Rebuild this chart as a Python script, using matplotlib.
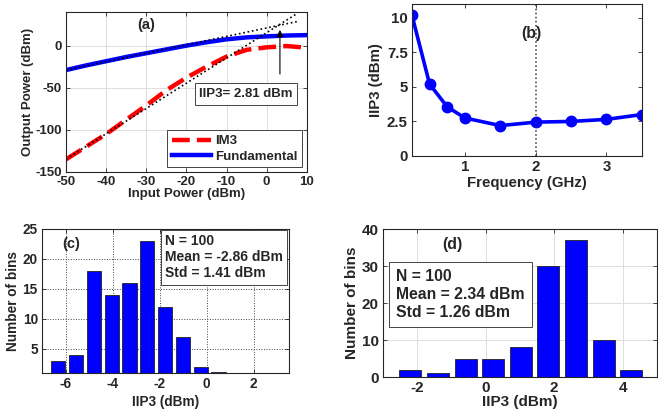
import matplotlib
matplotlib.use("Agg")
import matplotlib.pyplot as plt
import numpy as np

plt.rcParams["font.family"] = ["Liberation Sans", "DejaVu Sans"]
plt.rcParams["font.weight"] = "bold"
plt.rcParams["font.size"] = 9.5
plt.rcParams["axes.labelweight"] = "bold"
plt.rcParams["axes.unicode_minus"] = False
plt.rcParams["text.color"] = "#262626"
plt.rcParams["axes.labelcolor"] = "#262626"
plt.rcParams["xtick.color"] = "#262626"
plt.rcParams["ytick.color"] = "#262626"
plt.rcParams["xtick.direction"] = "in"
plt.rcParams["ytick.direction"] = "in"

# (a) two-tone sweep
pin = [-50, -45, -40, -35, -30, -25, -20, -15, -10, -5, 0, 5, 10]
fund = [-29, -23.5, -18.5, -13.5, -9, -4.5, 0, 4, 7.5, 9.8, 11, 12, 12.5]
im3 = [-135, -120, -105, -88, -71, -53, -38, -25, -13, -5, -2, -0.5, -2.5]
iip3_a = 2.81
fund_gain = 21.0   # extrapolated fundamental: y = x + gain
im3_off = 15.4     # extrapolated IM3: y = 3x + off
pin_ext = [-50, 7.5]

# (b) IIP3 vs frequency
freq = [0.25, 0.5, 0.75, 1.0, 1.5, 2.0, 2.5, 3.0, 3.5]
iip3_f = [10.2, 5.2, 3.55, 2.75, 2.2, 2.45, 2.5, 2.65, 3.0]

# (c) Monte Carlo histogram
c_centers = [-6.31 + 0.757 * k for k in range(13)]
c_counts = [3, 4, 18, 14, 16, 23, 12, 7, 2, 1.15, 0, 0, 0]
c_stats = "N = 100\nMean = -2.86 dBm\nStd = 1.41 dBm"

# (d) Monte Carlo histogram
d_centers = [-2.2 + 0.806 * k for k in range(9)]
d_counts = [2, 1, 5, 5, 8, 30, 37, 10, 2]
d_stats = "N = 100\nMean = 2.34 dBm\nStd = 1.26 dBm"

fig = plt.figure(figsize=(6.58, 4.19), dpi=100)


def style(ax, fs):
    ax.tick_params(top=True, right=True, length=3, width=0.6, pad=3, labelsize=fs)
    for s in ax.spines.values():
        s.set_linewidth(0.8)
        s.set_color("#262626")


# ---- (a)
fs = 9.5
ax = fig.add_axes([0.1003, 0.5895, 0.366, 0.382])
style(ax, fs)
ax.grid(True, color="#dddddd", lw=0.7)
ax.set_axisbelow(True)
ax.plot(pin, im3, color="red", ls=(0, (4, 1.6)), lw=3.2, label="IM3")
ax.plot(pin, fund, color="blue", lw=3.2, label="Fundamental")
px = np.array(pin_ext)
ax.plot(px, px + fund_gain, color="black", ls=":", lw=1.2)
ax.plot(px, 3 * px + im3_off, color="black", ls=":", lw=1.2)
ax.annotate("", xy=(3.3, 22), xytext=(3.3, -37),
            arrowprops=dict(arrowstyle="-|>", color="black", lw=0.8, mutation_scale=10))
ax.text(-16.8, -57.5, "IIP3= %.2f dBm" % iip3_a, fontsize=9.5, va="center",
        bbox=dict(boxstyle="square,pad=0.35", fc="white", ec="#262626", lw=0.6))
ax.text(-30, 24.5, "(a)", fontsize=10.5, ha="center", va="center")
ax.set_xlim(-50, 10)
ax.set_ylim(-150, 40)
ax.set_xticks(range(-50, 11, 10))
ax.set_yticks([-150, -100, -50, 0])
ax.set_xlabel("Input Power (dBm)", fontsize=fs, labelpad=0)
ax.set_ylabel("Output Power (dBm)", fontsize=fs, labelpad=1)
leg = ax.legend(loc="lower right", fontsize=9.5, handlelength=3.0,
                fancybox=False, framealpha=1, edgecolor="#262626",
                borderaxespad=0.35, labelspacing=0.25, borderpad=0.35,
                handletextpad=0.3)
leg.get_frame().set_linewidth(0.6)

# ---- (b)
fs = 10.8
ax = fig.add_axes([0.626, 0.6277, 0.3495, 0.3628])
style(ax, fs)
ax.plot(freq, iip3_f, color="blue", lw=2.6, marker="o", ms=7.5)
ax.axvline(2, color="#333333", ls=":", lw=1.1)
ax.text(1.94, 8.9, "(b)", fontsize=11.5, ha="center", va="center")
ax.set_xlim(0.25, 3.5)
ax.set_ylim(0, 11)
ax.set_xticks([1, 2, 3])
ax.set_yticks([0, 2.5, 5, 7.5, 10])
ax.set_yticklabels(["0", "2.5", "5", "7.5", "10"])
ax.set_xlabel("Frequency (GHz)", fontsize=fs, labelpad=1)
ax.set_ylabel("IIP3 (dBm)", fontsize=fs, labelpad=3)

# ---- (c)
fs = 9.8
ax = fig.add_axes([0.0638, 0.1098, 0.3754, 0.3437])
style(ax, fs)
ax.grid(True, color="#444444", ls=":", lw=0.7)
ax.set_axisbelow(True)
ax.bar(c_centers, c_counts, width=0.757 * 0.8, color="blue",
       edgecolor="#222222", lw=0.6)
ax.text(-5.74, 22.5, "(c)", fontsize=10.5, ha="center", va="center")
ax.text(0.497, 0.965, c_stats, transform=ax.transAxes, ha="left", va="top",
        fontsize=10, linespacing=1.2,
        bbox=dict(boxstyle="square,pad=0.3", fc="white", ec="#262626", lw=0.6))
ax.set_xlim(-7, 3.5)
ax.set_ylim(1, 25)
ax.set_xticks([-6, -4, -2, 0, 2])
ax.set_yticks([5, 10, 15, 20, 25])
ax.set_xlabel("IIP3 (dBm)", fontsize=fs, labelpad=3)
ax.set_ylabel("Number of bins", fontsize=fs, labelpad=2)

# ---- (d)
fs = 11
ax = fig.add_axes([0.582, 0.1002, 0.4164, 0.3532])
style(ax, fs)
ax.grid(True, color="#dddddd", lw=0.7)
ax.set_axisbelow(True)
ax.bar(d_centers, d_counts, width=0.806 * 0.8, color="blue",
       edgecolor="#222222", lw=0.6)
ax.text(-0.96, 35.7, "(d)", fontsize=11.5, ha="center", va="center")
ax.text(-2.62, 22.4, d_stats, ha="left", va="center",
        fontsize=11.3, linespacing=1.25,
        bbox=dict(boxstyle="square,pad=0.45", fc="white", ec="#262626", lw=0.6))
ax.set_xlim(-3, 5)
ax.set_ylim(0, 40)
ax.set_xticks([-2, 0, 2, 4])
ax.set_yticks(range(0, 41, 10))
ax.set_xlabel("IIP3 (dBm)", fontsize=fs, labelpad=0)
ax.set_ylabel("Number of bins", fontsize=fs, labelpad=2)

fig.savefig("out.png", dpi=100)
